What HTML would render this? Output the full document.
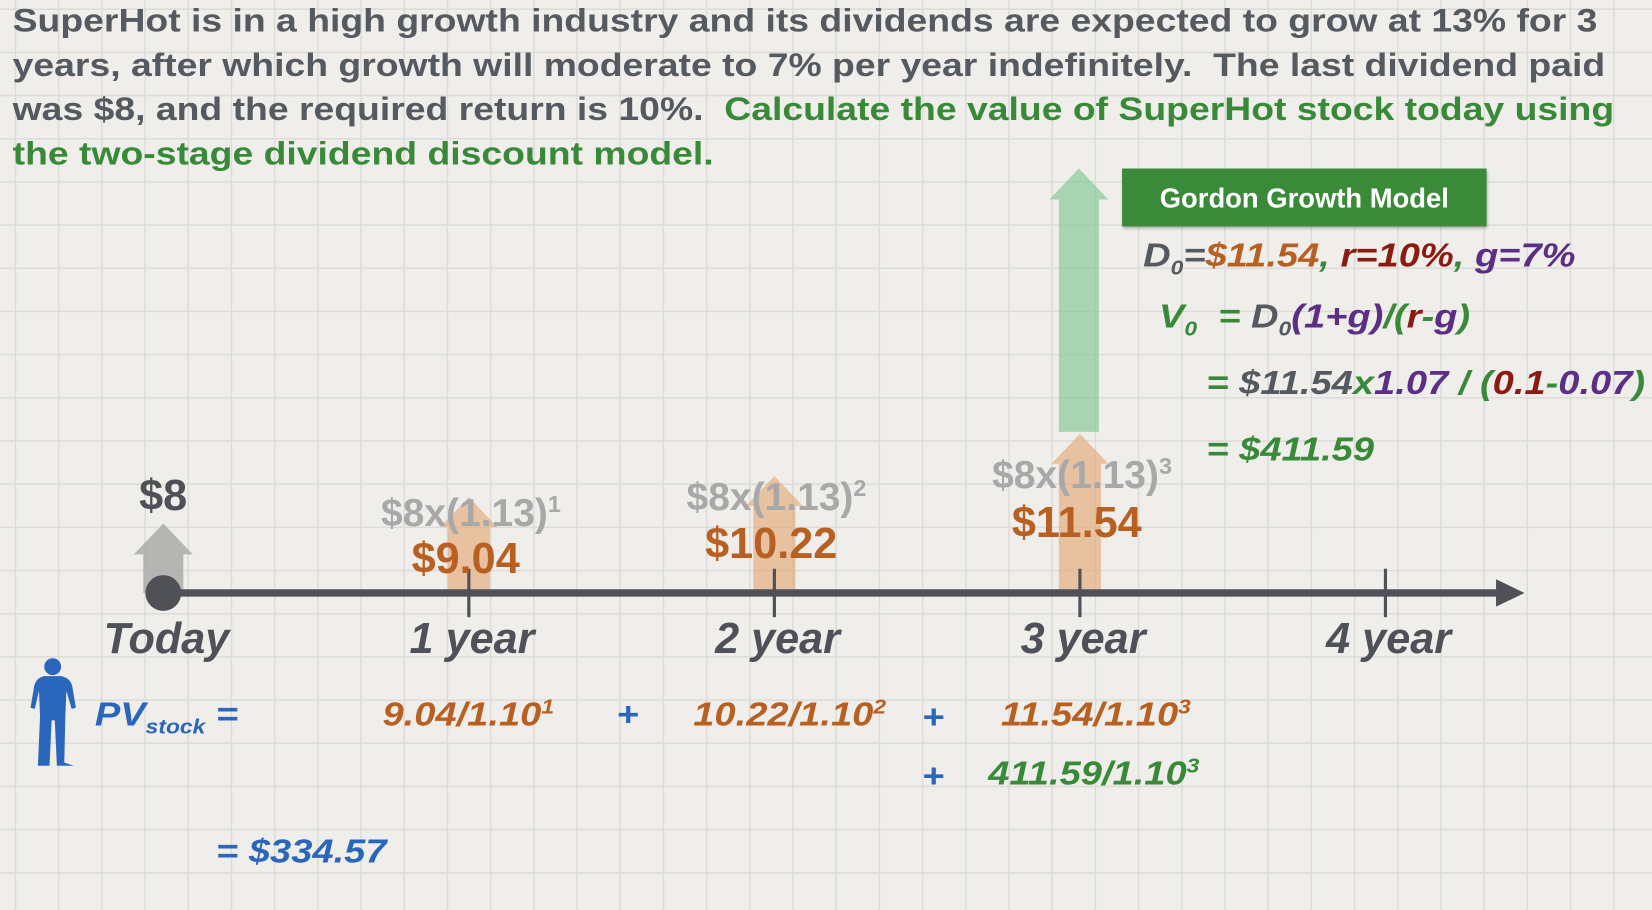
<!DOCTYPE html>
<html><head><meta charset="utf-8">
<style>
html,body{margin:0;padding:0;width:1652px;height:910px;overflow:hidden;background:#efeeeb;}
#stage{position:absolute;left:0;top:0;width:1568px;height:864px;transform-origin:0 0;transform:scale(1.05357,1.05324);
 background-color:#efeeeb;
 background-image:linear-gradient(#dcdbd7 1.5px,transparent 1.5px),linear-gradient(90deg,#dcdbd7 1.5px,transparent 1.5px);
 background-size:41px 41px;background-position:14px 8px;font-family:"Liberation Sans",sans-serif;}
.t{position:absolute;white-space:nowrap;font-weight:bold;}
.q{font-size:31px;color:#555960;left:12px;transform:scaleX(1.143);transform-origin:0 0}
.g{color:#388a38}
.lab{font-family:"Liberation Sans Narrow","Liberation Sans",sans-serif;font-style:italic;font-size:41px;color:#4f5158;transform:translateX(-50%)}
.n{font-family:"Liberation Sans Narrow","Liberation Sans",sans-serif;}
.calc{font-size:37px;color:#a8a8a8;transform:translateX(-50%)}
.val{font-size:41px;color:#b85f22;transform:translateX(-50%)}
.f{font-style:italic;font-size:32px;transform:scaleX(1.13);transform-origin:0 0}
sub,sup{font-size:60%}
</style></head><body>
<div id="stage">
<div class="t q" style="top:2px">SuperHot is in a high growth industry and its dividends are expected to grow at 13% for 3</div>
<div class="t q" style="top:44px">years, after which growth will moderate to 7% per year indefinitely.&nbsp; The last dividend paid</div>
<div class="t q" style="top:86px">was $8, and the required return is 10%.&nbsp; <span class="g">Calculate the value of SuperHot stock today using</span></div>
<div class="t q g" style="top:128px">the two-stage dividend discount model.</div>

<svg style="position:absolute;left:0;top:0" width="1568" height="864">
 <g id="arrows"></g>
 <line x1="155" y1="563" x2="1425" y2="563" stroke="#4f5157" stroke-width="7"/>
 <polygon points="1420,550 1447,563 1420,576" fill="#4f5157"/>
 <g id="ticks"></g>
 <circle cx="155" cy="563" r="17" fill="#4f5157"/>
</svg>

<div class="t n" style="left:132px;top:447px;font-size:41px;color:#4f5158">$8</div>
<div id="labels"></div>

<div class="t" style="left:1065px;top:160px;width:346px;height:55px;background:#3a8a3a;box-shadow:1px 2px 3px rgba(0,0,0,.3);color:#fff;font-size:26px;line-height:57px;text-align:center"><span class="n" style="font-weight:bold">Gordon Growth Model</span></div>
<div class="t f n" style="left:1085px;top:224px;color:#555960">D<sub>0</sub>=<span style="color:#b85f22">$11.54</span><span class="g">,</span> <span style="color:#8b1a12">r=10%</span><span class="g">,</span> <span style="color:#5a2f85">g=7%</span></div>
<div class="t f n g" style="left:1100px;top:282px">V<sub>0</sub>&nbsp; = <span style="color:#555960">D<sub>0</sub></span><span style="color:#5a2f85">(1+g)</span>/<span>(</span><span style="color:#8b1a12">r</span>-<span style="color:#5a2f85">g</span>)</div>
<div class="t f n g" style="left:1145px;top:345px">= <span style="color:#555960">$11.54</span>x<span style="color:#5a2f85">1.07</span> / (<span style="color:#8b1a12">0.1</span>-<span style="color:#5a2f85">0.07</span>)</div>
<div class="t f n g" style="left:1145px;top:408px">= $411.59</div>

<svg style="position:absolute;left:28px;top:624px" width="46" height="104" viewBox="0 0 46 104">
 <circle cx="22" cy="9" r="8" fill="#2a66bb"/>
 <path d="M14 18 L30 18 Q40 20 41 30 L44 48 L40 49 L35 32 L34 56 L33 100 L42 103 L26 103 L24 60 L21 60 L19 103 L8 103 L10 56 L9 32 L5 49 L1 48 L4 30 Q5 20 14 18Z" fill="#2a66bb"/>
</svg>
<div class="t f n" style="left:90px;top:660px;color:#2a66bb">PV<sub>stock</sub> =</div>
<div class="t f n" style="left:363px;top:660px;color:#b85f22">9.04/1.10<sup>1</sup></div>
<div class="t f n" style="left:585px;top:660px;color:#2a66bb">+</div>
<div class="t f n" style="left:658px;top:660px;color:#b85f22">10.22/1.10<sup>2</sup></div>
<div class="t f n" style="left:875px;top:662px;color:#2a66bb">+</div>
<div class="t f n" style="left:950px;top:660px;color:#b85f22">11.54/1.10<sup>3</sup></div>
<div class="t f n" style="left:875px;top:718px;color:#2a66bb">+</div>
<div class="t f n g" style="left:938px;top:716px">411.59/1.10<sup>3</sup></div>
<div class="t f n" style="left:205px;top:790px;color:#2a66bb">= $334.57</div>
</div>

<script>
const periods=["Today","1 year","2 year","3 year","4 year"];
const dividends=["$9.04","$10.22","$11.54"];
const growthCalcs=["$8x(1.13)","$8x(1.13)","$8x(1.13)"];
const exponents=["1","2","3"];
const x0=155,step=290,axisY=563;
const px=i=>x0+i*step;
const NS="http://www.w3.org/2000/svg";
const arrows=document.getElementById('arrows'),ticks=document.getElementById('ticks'),labels=document.getElementById('labels');
function arrow(cx,top,bottom,hw,sw,color,name){
 const p=document.createElementNS(NS,'polygon');
 const hb=top+hw*1.05;
 p.setAttribute('points',`${cx},${top} ${cx+hw},${hb} ${cx+sw},${hb} ${cx+sw},${bottom} ${cx-sw},${bottom} ${cx-sw},${hb} ${cx-hw},${hb}`);
 p.setAttribute('fill',color);
 
 
 arrows.appendChild(p);
}
arrow(px(0),497,563,28,19,'rgba(170,170,170,0.85)','dividend-arrow-today');
const tops=[472,452,412];
tops.forEach((t,i)=>arrow(px(i+1),t,563,27,20,'rgba(226,165,110,0.6)','dividend-arrow-year-'+(i+1)));
arrow(px(3)-1,160,410,28,19,'rgba(120,195,140,0.6)','terminal-value-arrow');
periods.forEach((p,i)=>{
 if(i>0){const l=document.createElementNS(NS,'line');
  l.setAttribute('x1',px(i));l.setAttribute('x2',px(i));l.setAttribute('y1',540);l.setAttribute('y2',586);
  l.setAttribute('stroke','#4f5157');l.setAttribute('stroke-width','3');
  
  
  ticks.appendChild(l);}
 const d=document.createElement('div');d.className='t lab';d.textContent=p;
 d.style.left=(px(i)+3)+'px';d.style.top='583px';
 
 
 labels.appendChild(d);
});
const calcTops=[466,451,430],valTops=[507,493,473];
dividends.forEach((v,i)=>{
 const c=document.createElement('div');c.className='t n calc';
 c.innerHTML=growthCalcs[i]+'<sup>'+exponents[i]+'</sup>';
 c.style.left=(px(i+1)+2)+'px';c.style.top=calcTops[i]+'px';
 
 
 labels.appendChild(c);
 const e=document.createElement('div');e.className='t n val';e.textContent=v;
 e.style.left=(px(i+1)-3)+'px';e.style.top=valTops[i]+'px';
 
 
 labels.appendChild(e);
});
</script>
</body></html>
